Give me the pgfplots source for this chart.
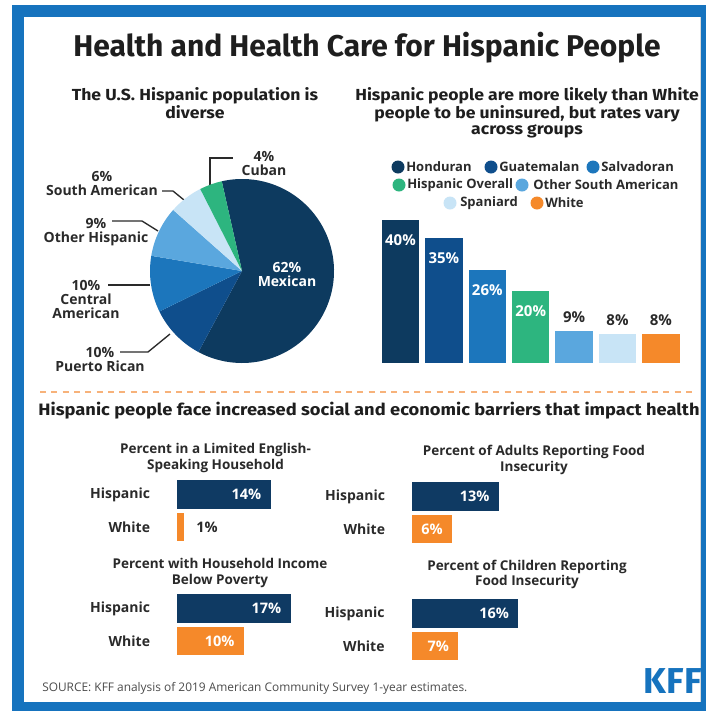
\documentclass[border=0pt]{standalone}
\usepackage{pgfplots}
\pgfplotsset{compat=1.18}
\usepackage{fontspec}
\setmainfont{Open Sans}
\newfontfamily\headfont{Fira Sans}
\newcommand\fpx[2]{\fontsize{\fpeval{#1*0.75}pt}{\fpeval{#2*0.75}pt}\selectfont}
\newcommand\hx[1]{\scalebox{1.1}[1]{#1}}
\definecolor{kblue}{HTML}{1673BE}
\definecolor{tx}{HTML}{1E1E1E}
\definecolor{lab}{HTML}{2A2A2A}
\definecolor{hond}{HTML}{0D3A5F}
\definecolor{guat}{HTML}{0F4E8C}
\definecolor{salv}{HTML}{1C76BC}
\definecolor{hispo}{HTML}{2DB57F}
\definecolor{osa}{HTML}{5AA7DE}
\definecolor{span}{HTML}{C8E4F6}
\definecolor{wht}{HTML}{F5892A}
\definecolor{dashc}{HTML}{F7B27A}
\definecolor{navy}{HTML}{0F3A63}
\begin{document}
\begin{tikzpicture}
\begin{scope}[x=0.75pt,y=-0.75pt]
\useasboundingbox (0,0) rectangle (706,711);
\fill[white] (0,0) rectangle (706,711);
\fill[kblue] (12,5) rectangle (706,711);
\fill[white] (24,17) rectangle (700,702);
\draw[black!15] (700.5,17) -- (700.5,702);
% titles
\node[font=\headfont\bfseries\fpx{30}{34}, text=tx] at (367,48) {Health and Health Care for Hispanic People};
\node[align=center, font=\headfont\bfseries\fpx{16}{16}, text=tx] at (195,103) {\hx{The U.S. Hispanic population is}\\\hx{diverse}};
\node[align=center, font=\headfont\bfseries\fpx{16}{16}, text=tx] at (527,113) {\hx{Hispanic people are more likely than White}\\\hx{people to be uninsured, but rates vary}\\\hx{across groups}};
\draw[dashc, line width=1.1pt, dash pattern=on 4.5pt off 4pt] (40,392) -- (692,392);
\node[font=\headfont\bfseries\fpx{16.5}{16}, text=tx] at (369,411) {\scalebox{1.11}[1]{Hispanic people face increased social and economic barriers that impact health}};
% pie leader lines
\begin{scope}[draw=lab, line width=1pt]
\draw (210,187) -- (210,158) -- (233,158);
\draw (162,191) -- (173,191) -- (184,200);
\draw (112,221) -- (142,221) -- (158,231);
\draw (108,285) -- (150,285);
\draw (120,352) -- (148,352) -- (170,334);
\end{scope}
% legend of uninsured chart
\begin{scope}[font=\bfseries\fpx{13}{13}, text=lab]
\fill[hond] (398,167) circle (6.5);  \node[anchor=west,inner sep=0] at (406,167) {Honduran};
\fill[guat] (491,167) circle (6.5);  \node[anchor=west,inner sep=0] at (499,167) {Guatemalan};
\fill[salv] (593,167) circle (6.5);  \node[anchor=west,inner sep=0] at (601,167) {Salvadoran};
\fill[hispo] (399,185) circle (6.5); \node[anchor=west,inner sep=0] at (407,185) {Hispanic Overall};
\fill[osa] (522,185) circle (6.5);   \node[anchor=west,inner sep=0] at (533,185) {Other South American};
\fill[span] (450,203) circle (6.5);  \node[anchor=west,inner sep=0] at (460,203) {Spaniard};
\fill[wht] (537,203) circle (6.5);   \node[anchor=west,inner sep=0] at (545,203) {White};
\end{scope}
\end{scope}

% ---------- pie (shares 62,10,10,9,6,4 of 101, clockwise from 102.7 deg) ----------
\begin{axis}[at={({242*0.75pt},{-271*0.75pt})}, anchor=center, scale only axis, width=138pt, height=138pt,
  xmin=-1,xmax=1,ymin=-1,ymax=1, hide axis, clip=false]
\fill[hond]  (axis cs:0,0) -- (axis cs:{cos(102.7)},{sin(102.7)}) arc[start angle=102.7, end angle=-118.3, radius=69pt] -- cycle;
\fill[guat]  (axis cs:0,0) -- (axis cs:{cos(-118.3)},{sin(-118.3)}) arc[start angle=-118.3, end angle=-153.9, radius=69pt] -- cycle;
\fill[salv]  (axis cs:0,0) -- (axis cs:{cos(-153.9)},{sin(-153.9)}) arc[start angle=-153.9, end angle=-189.5, radius=69pt] -- cycle;
\fill[osa]   (axis cs:0,0) -- (axis cs:{cos(-189.5)},{sin(-189.5)}) arc[start angle=-189.5, end angle=-221.6, radius=69pt] -- cycle;
\fill[span]  (axis cs:0,0) -- (axis cs:{cos(-221.6)},{sin(-221.6)}) arc[start angle=-221.6, end angle=-243.0, radius=69pt] -- cycle;
\fill[hispo] (axis cs:0,0) -- (axis cs:{cos(-243.0)},{sin(-243.0)}) arc[start angle=-243.0, end angle=-257.3, radius=69pt] -- cycle;
\end{axis}
\begin{scope}[x=0.75pt,y=-0.75pt, font=\bfseries\fpx{14}{14}, text=lab, align=center]
\node at (264,163.5) {4\%\\Cuban};
\node at (102,183) {6\%\\South American};
\node at (96,232) {9\%\\Other Hispanic};
\node at (86,299.5) {10\%\\Central\\American};
\node at (100,359) {10\%\\Puerto Rican};
\node[text=white] at (287,274) {62\%\\Mexican};
\end{scope}

% ---------- uninsured bars ----------
\begin{axis}[at={({378.8*0.75pt},{-363*0.75pt})}, anchor=south west, scale only axis, width=227.85pt, height=120.75pt,
  xmin=-0.5,xmax=6.5,ymin=0,ymax=45, hide axis, clip=false,
  /pgf/number format/assume math mode=true,
  nodes near coords={\pgfmathprintnumber{\pgfplotspointmeta}\%},
  nodes near coords style={font=\bfseries\fpx{15}{15}},
  inlab/.style={every node near coord/.append style={anchor=center,yshift=-15pt,text=white}},
  outlab/.style={every node near coord/.append style={anchor=center,yshift=10.5pt,text=lab}}]
\addplot[ybar, bar shift=0pt, bar width=0.864, fill=hond, draw=none, inlab] coordinates {(0,40)};
\addplot[ybar, bar shift=0pt, bar width=0.864, fill=guat, draw=none, inlab] coordinates {(1,35)};
\addplot[ybar, bar shift=0pt, bar width=0.864, fill=salv, draw=none, inlab] coordinates {(2,26)};
\addplot[ybar, bar shift=0pt, bar width=0.864, fill=hispo, draw=none, inlab] coordinates {(3,20)};
\addplot[ybar, bar shift=0pt, bar width=0.864, fill=osa, draw=none, outlab] coordinates {(4,9)};
\addplot[ybar, bar shift=0pt, bar width=0.864, fill=span, draw=none, outlab] coordinates {(5,8)};
\addplot[ybar, bar shift=0pt, bar width=0.864, fill=wht, draw=none, outlab] coordinates {(6,8)};
\end{axis}

% ---------- small bar charts ----------
\pgfplotsset{smallbar/.style={anchor=south west, scale only axis, width=100.2pt, height=48.75pt,
  xmin=0,xmax=20,ymin=-0.5,ymax=1.5, hide axis, clip=false,
  /pgf/number format/assume math mode=true,
  nodes near coords={\pgfmathprintnumber{\pgfplotspointmeta}\%},
  nodes near coords style={font=\bfseries\fpx{14.5}{14.5}},
  inlab/.style={every node near coord/.append style={anchor=east,xshift=-3.5pt,text=white}},
  outlab/.style={every node near coord/.append style={anchor=west,xshift=6pt,text=lab}}},
  hbar/.style={xbar, bar shift=0pt, bar width=0.877, draw=none, point meta=x}}
\newcommand\cats{%
  \node[anchor=east, inner sep=0, font=\bfseries\fpx{14}{14}, text=lab, xshift=-20pt] at (axis cs:0,1) {Hispanic};
  \node[anchor=east, inner sep=0, font=\bfseries\fpx{14}{14}, text=lab, xshift=-20pt] at (axis cs:0,0) {White};}

\begin{axis}[smallbar, at={({177*0.75pt},{-543.25*0.75pt})}]
\addplot[hbar, fill=navy, inlab] coordinates {(14,1)};
\addplot[hbar, fill=wht, outlab] coordinates {(1,0)};
\cats
\end{axis}
\begin{axis}[smallbar, at={({412*0.75pt},{-545.25*0.75pt})}]
\addplot[hbar, fill=navy, inlab] coordinates {(13,1)};
\addplot[hbar, fill=wht, inlab] coordinates {(6,0)};
\cats
\end{axis}
\begin{axis}[smallbar, at={({177*0.75pt},{-657.25*0.75pt})}]
\addplot[hbar, fill=navy, inlab] coordinates {(17,1)};
\addplot[hbar, fill=wht, inlab] coordinates {(10,0)};
\cats
\end{axis}
\begin{axis}[smallbar, at={({411.5*0.75pt},{-662.25*0.75pt})}]
\addplot[hbar, fill=navy, inlab] coordinates {(16,1)};
\addplot[hbar, fill=wht, inlab] coordinates {(7,0)};
\cats
\end{axis}
\begin{scope}[x=0.75pt,y=-0.75pt]
\begin{scope}[font=\bfseries\fpx{13.5}{15.5}, text=lab, align=center]
\node at (215.5,458) {Percent in a Limited English-\\Speaking Household};
\node at (534,460) {Percent of Adults Reporting Food\\Insecurity};
\node at (220,573) {Percent with Household Income\\Below Poverty};
\node at (527,574.5) {Percent of Children Reporting\\Food Insecurity};
\end{scope}
\node[anchor=west, font=\fpx{11.9}{12}, text=black!70, inner sep=0] at (42,688) {SOURCE: KFF analysis of 2019 American Community Survey 1-year estimates.};
\node[anchor=east, font=\headfont\bfseries\fpx{36}{36}, text=kblue, inner sep=0] at (702,681) {KFF};
\end{scope}
\end{tikzpicture}
\end{document}
